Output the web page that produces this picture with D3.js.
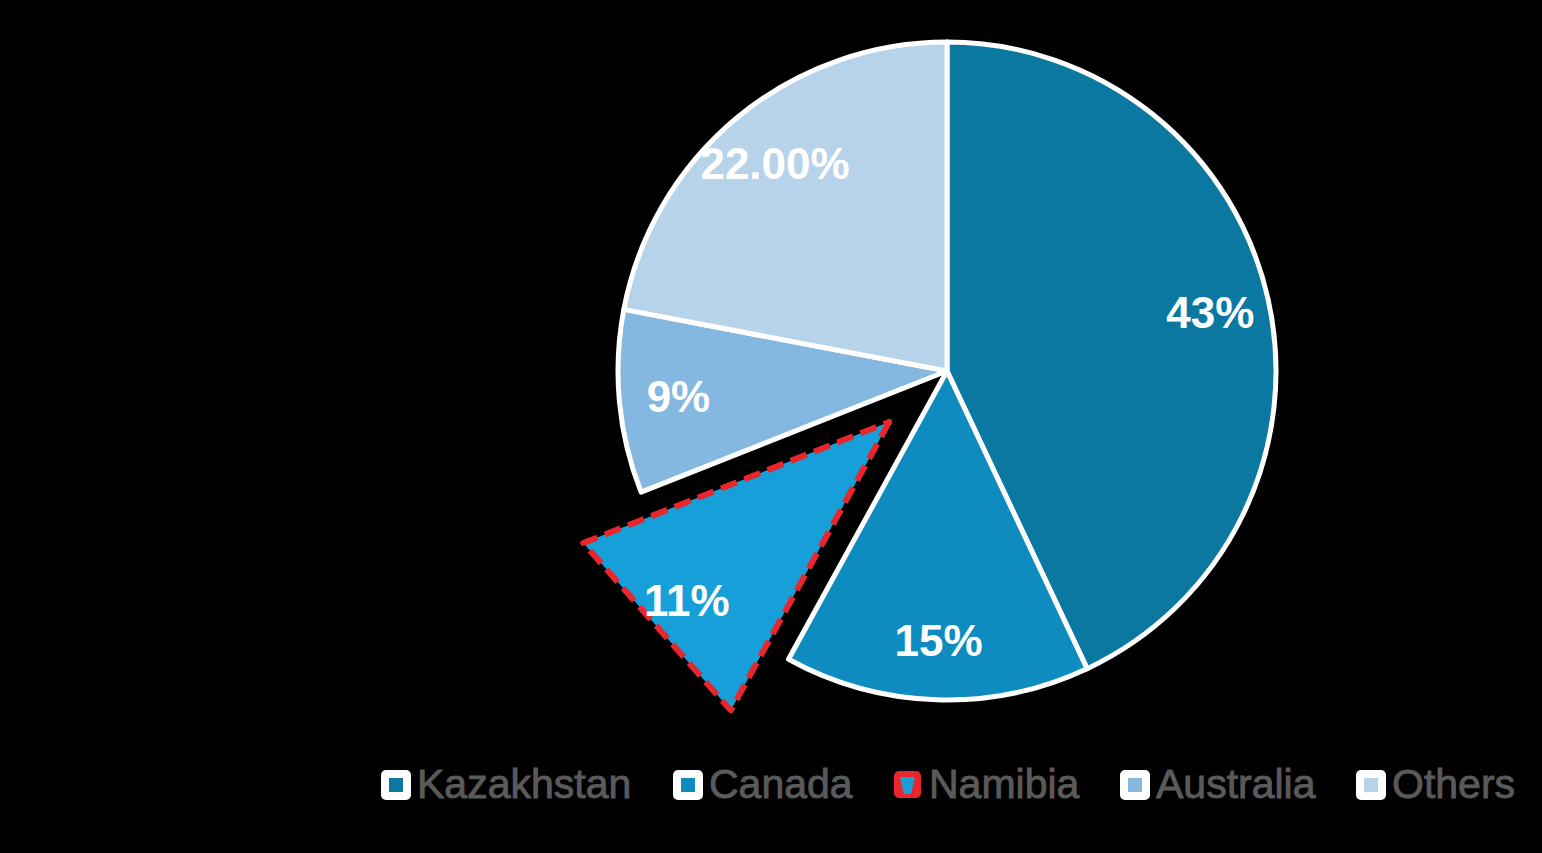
<!DOCTYPE html>
<html>
<head>
<meta charset="utf-8">
<script src="https://cdn.jsdelivr.net/npm/d3@7"></script>
<style>
html,body{margin:0;padding:0;background:#000;}
svg{display:block;}
</style>
</head>
<body>
<svg id="chart" width="1542" height="853"></svg>
<script>
const categories = ["Kazakhstan", "Canada", "Namibia", "Australia", "Others"];
const values = [43, 15, 11, 9, 22];
const labels = ["43%", "15%", "11%", "9%", "22.00%"];
const colors = ["#0b78a2", "#0e8cc0", "#169fd8", "#85b8e0", "#b7d3ea"];
const highlighted = "Namibia";

const svg = d3.select("#chart");
const cx = 947, cy = 371, R = 329, explode = 77, labelR = 0.82 * R;

const data = categories.map((c, i) => ({ name: c, value: values[i], label: labels[i], color: colors[i] }));
const pie = d3.pie().value(d => d.value).sort(null);
const arcs = pie(data);
const arc = d3.arc().innerRadius(0).outerRadius(R);
const dir = a => [Math.sin(a), -Math.cos(a)];

const g = svg.append("g").attr("transform", `translate(${cx},${cy})`);

function addLabel(x, y, text) {
  g.append("text")
    .attr("x", x).attr("y", y)
    .attr("text-anchor", "middle").attr("dominant-baseline", "central")
    .attr("font-family", "Liberation Sans, Arial, sans-serif")
    .attr("font-weight", "bold").attr("font-size", 44).attr("fill", "#fff")
    .text(text);
}

arcs.forEach(a => {
  const mid = (a.startAngle + a.endAngle) / 2;
  if (a.data.name === highlighted) {
    const [mx, my] = dir(mid);
    const vx = mx * explode, vy = my * explode;
    const [sx, sy] = dir(a.startAngle), [ex, ey] = dir(a.endAngle);
    const pts = [[vx, vy], [vx + sx * R, vy + sy * R], [vx + ex * R, vy + ey * R]];
    g.append("path")
      .attr("d", d3.line()(pts) + "Z")
      .attr("fill", a.data.color)
      .attr("stroke", "#e8262b")
      .attr("stroke-width", 6)
      .attr("stroke-dasharray", "17 8")
      .attr("stroke-linejoin", "round");
  } else {
    g.append("path")
      .attr("d", arc(a))
      .attr("fill", a.data.color)
      .attr("stroke", "#fff")
      .attr("stroke-width", 5)
      .attr("stroke-linejoin", "round");
  }
});

arcs.forEach(a => {
  const mid = (a.startAngle + a.endAngle) / 2;
  const [mx, my] = dir(mid);
  const off = a.data.name === highlighted ? explode : 0;
  addLabel(mx * (off + labelR), my * (off + labelR), a.data.label);
});

// Legend
const legendX = [381, 673, 893, 1120, 1356];
const ly = 785;
const leg = svg.append("g");
data.forEach((d, i) => {
  const x = legendX[i];
  const item = leg.append("g").attr("transform", `translate(${x},${ly})`);
  if (d.name === highlighted) {
    item.append("rect").attr("x", 1).attr("y", -14).attr("width", 27).attr("height", 27)
      .attr("rx", 5).attr("fill", "#e8262b");
    item.append("path").attr("d", "M7,-8 L22,-8 L18,9 L11,9 Z").attr("fill", "#169fd8");
  } else {
    item.append("rect").attr("x", 0).attr("y", -15).attr("width", 30).attr("height", 30)
      .attr("rx", 5).attr("fill", "#ffffff");
    item.append("rect").attr("x", 8).attr("y", -7).attr("width", 14).attr("height", 14)
      .attr("fill", d.color);
  }
  item.append("text")
    .attr("x", 36).attr("y", 13)
    .attr("font-family", "Liberation Sans, Arial, sans-serif")
    .attr("font-size", 41).attr("fill", "#5a5a5a")
    .attr("stroke", "#5a5a5a").attr("stroke-width", 0.9)
    .text(d.name);
});
</script>
</body>
</html>
